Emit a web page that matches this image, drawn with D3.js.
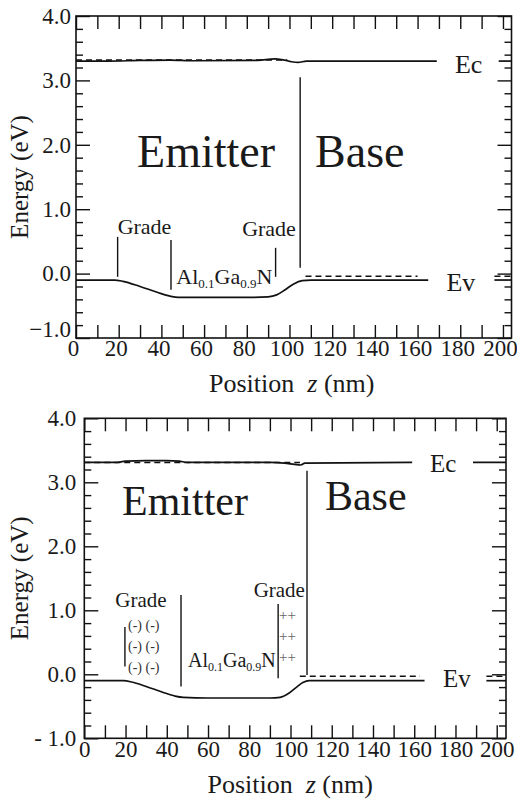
<!DOCTYPE html>
<html>
<head>
<meta charset="utf-8">
<script src="https://cdn.jsdelivr.net/npm/d3@7"></script>
<style>
  html, body { margin: 0; padding: 0; background: #fff; }
  svg { display: block; }
  svg text { font-family: "Liberation Serif", "Tinos", "Times New Roman", "DejaVu Serif", serif; fill: #1a1a1a; }
</style>
</head>
<body>
<svg id="chart" width="517" height="799"></svg>
<script>
// ---- Band-edge data: position z (nm) vs energy (eV) ----
// Upper panel (no interface charge)
const topEvSolid = [[0,-0.10],[18,-0.10],[22,-0.12],[30,-0.20],[38,-0.29],[44,-0.35],[48,-0.37],[60,-0.37],[80,-0.37],[90,-0.36],[94,-0.33],[98,-0.25],[102,-0.16],[106,-0.11],[110,-0.10],[165,-0.10]];
const topEvSolidEnd = [[196,-0.10],[204,-0.10]];
const topEvDash = [[107.5,-0.04],[160,-0.04]];
const topEvDashEnd = [[196,-0.04],[204,-0.04]];
const topEcSolid = [[0,3.30],[15,3.30],[30,3.31],[44,3.315],[55,3.305],[85,3.31],[93,3.335],[97,3.32],[101,3.29],[104,3.28],[108,3.30],[169,3.30]];
const topEcSolidEnd = [[198,3.30],[204,3.30]];
const topEcDash = [[0,3.315],[99,3.315]];
// region boundaries: [z, lower energy, upper energy]
const topMarkers = [[19.5,-0.05,0.57],[44.5,-0.25,0.52],[93.5,-0.05,0.40],[105,0.09,3.05]];

// Lower panel (with interface charge)
const botEvSolid = [[0,-0.10],[19,-0.10],[23,-0.12],[30,-0.19],[38,-0.28],[44,-0.34],[48,-0.36],[60,-0.37],[90,-0.37],[95,-0.36],[99,-0.30],[103,-0.20],[106,-0.13],[109,-0.10],[165,-0.10]];
const botEvSolidEnd = [[195,-0.10],[204.5,-0.10]];
const botEvDash = [[104.5,-0.03],[162.8,-0.03]];
const botEvDashEnd = [[195,-0.03],[204.5,-0.03]];
const botEcSolid = [[0,3.31],[15,3.31],[20,3.33],[30,3.34],[40,3.34],[46,3.33],[50,3.31],[90,3.31],[97,3.30],[102,3.28],[105,3.27],[107,3.30],[159,3.31]];
const botEcSolidEnd = [[188.5,3.31],[204.5,3.31]];
const botEcDash = [[0,3.31],[104.6,3.31]];
const botMarkers = [[19.7,0.12,0.74],[46.9,-0.19,1.24],[94,-0.06,1.10],[108,-0.01,3.18]];

// ---- Axis ticks ----
const zTicks = d3.range(0, 201, 10);
const zLabels = [0,20,40,60,80,100,120,140,160,180,200];
const eMajor = [-1,0,1,2,3,4];
const eMinor = d3.range(-0.8, 4, 0.2).filter(v => Math.abs(v - Math.round(v)) > 1e-6);

const FONT = "'Liberation Serif','Tinos','Times New Roman','DejaVu Serif',serif";
const svg = d3.select("#chart");

function drawPanel(p) {
  const x = d3.scaleLinear().domain(p.zDomain).range([p.left, p.right]);
  const y = d3.scaleLinear().domain([-1, 4]).range([p.bottom, p.top]);
  const g = svg.append("g");

  const line = d3.line().x(d => x(d[0])).y(d => y(d[1])).curve(d3.curveMonotoneX);

  // axes
  const fmtZ = d => zLabels.includes(d) ? String(d) : "";
  const ax = g.append("g").attr("transform", `translate(0,${p.bottom})`)
    .call(d3.axisBottom(x).tickValues(zTicks).tickSize(-13).tickPadding(2).tickFormat(fmtZ));
  ax.selectAll("text").attr("dx", p.xLabelDx);
  g.append("g").attr("transform", `translate(0,${p.top})`)
    .call(d3.axisTop(x).tickValues(zTicks).tickSize(-13).tickFormat(""));
  const ayMaj = g.append("g").attr("transform", `translate(${p.left},0)`)
    .call(d3.axisLeft(y).tickValues(eMajor).tickSize(-14).tickPadding(p.yPad).tickFormat(p.fmtE));
  ayMaj.selectAll("text").attr("dy", d => d === -1 ? p.minusDy : "0.32em");
  g.append("g").attr("transform", `translate(${p.left},0)`)
    .call(d3.axisLeft(y).tickValues(eMinor).tickSize(-7).tickFormat(""));
  g.append("g").attr("transform", `translate(${p.right},0)`)
    .call(d3.axisRight(y).tickValues(eMajor).tickSize(-14).tickFormat(""));
  g.append("g").attr("transform", `translate(${p.right},0)`)
    .call(d3.axisRight(y).tickValues(eMinor).tickSize(-7).tickFormat(""));
  g.selectAll(".domain").remove();
  g.selectAll(".tick line").attr("stroke", "#111").attr("stroke-width", 1.4);
  g.selectAll(".tick text").style("fill", "#1a1a1a")
    .style("font-family", FONT).style("font-size", "23px");

  // frame
  g.append("rect").attr("x", p.left).attr("y", p.top)
    .attr("width", p.right - p.left).attr("height", p.bottom - p.top)
    .attr("fill", "none").attr("stroke", "#111").attr("stroke-width", 1.6);

  // band edges
  const solid = [p.evSolid, p.evSolidEnd, p.ecSolid, p.ecSolidEnd];
  const dashed = [p.evDash, p.evDashEnd, p.ecDash];
  g.selectAll(".solid").data(solid).join("path").attr("class", "solid")
    .attr("d", line).attr("fill", "none").attr("stroke", "#111").attr("stroke-width", 1.7);
  g.selectAll(".dash").data(dashed).join("path").attr("class", "dash")
    .attr("d", line).attr("fill", "none").attr("stroke", "#111").attr("stroke-width", 1.5)
    .attr("stroke-dasharray", "6,4");

  // region boundaries
  g.selectAll(".marker").data(p.markers).join("line").attr("class", "marker")
    .attr("x1", d => x(d[0])).attr("x2", d => x(d[0]))
    .attr("y1", d => y(d[1])).attr("y2", d => y(d[2]))
    .attr("stroke", "#111").attr("stroke-width", 1.4);

  // labels placed in data coordinates
  p.labels.forEach(l => {
    const t = g.append("text").attr("x", x(l.z)).attr("y", y(l.e))
      .attr("text-anchor", l.anchor || "start")
      .style("font-family", FONT)
      .style("font-size", l.size + "px")
      .style("fill", l.color || "#1a1a1a");
    if (l.parts) {
      l.parts.forEach(pt => {
        t.append("tspan").text(pt.t).attr("dy", pt.dy || 0)
          .style("font-size", (pt.sub ? l.sub : l.size) + "px");
      });
    } else {
      t.text(l.text);
    }
  });

  // axis titles
  const xt = g.append("text").attr("x", (p.left + p.right) / 2 + p.xTitleDx).attr("y", p.xTitleY)
    .attr("text-anchor", "middle").style("font-family", FONT).style("font-size", "26px");
  xt.append("tspan").text("Position\u00a0 ");
  xt.append("tspan").text("z").style("font-style", "italic");
  xt.append("tspan").text(" (nm)");
  g.append("text")
    .attr("transform", `translate(${p.yTitleX},${(p.top + p.bottom) / 2}) rotate(-90)`)
    .attr("text-anchor", "middle").style("font-family", FONT).style("font-size", "25px")
    .text("Energy (eV)");
}

const alGaN = [
  {t: "Al"}, {t: "0.1", sub: true, dy: 4}, {t: "Ga", dy: -4},
  {t: "0.9", sub: true, dy: 4}, {t: "N", dy: -4}
];

drawPanel({
  zDomain: [0, 204], left: 76, right: 511.5, top: 16, bottom: 338,
  xLabelDx: -3, yPad: 5, minusDy: "-0.05em",
  fmtE: d => (d < 0 ? "\u2212" : "") + Math.abs(d).toFixed(1),
  xTitleY: 392, xTitleDx: -2, yTitleX: 28,
  evSolid: topEvSolid, evSolidEnd: topEvSolidEnd, evDash: topEvDash, evDashEnd: topEvDashEnd,
  ecSolid: topEcSolid, ecSolidEnd: topEcSolidEnd, ecDash: topEcDash,
  markers: topMarkers,
  labels: [
    {z: 28.6, e: 1.65, size: 46, text: "Emitter"},
    {z: 112, e: 1.65, size: 46, text: "Base"},
    {z: 19.5, e: 0.62, size: 22, text: "Grade"},
    {z: 103, e: 0.58, size: 22, text: "Grade", anchor: "end"},
    {z: 47, e: -0.16, size: 22, sub: 13, parts: alGaN},
    {z: 177.5, e: 3.12, size: 26, text: "Ec"},
    {z: 173.5, e: -0.27, size: 26, text: "Ev"}
  ]
});

drawPanel({
  zDomain: [0, 204.5], left: 84.3, right: 506, top: 418.3, bottom: 738.3,
  xLabelDx: 0, yPad: 8, minusDy: "0.32em",
  fmtE: d => (d < 0 ? "- " : "") + Math.abs(d).toFixed(1),
  xTitleY: 793, xTitleDx: -5, yTitleX: 28,
  evSolid: botEvSolid, evSolidEnd: botEvSolidEnd, evDash: botEvDash, evDashEnd: botEvDashEnd,
  ecSolid: botEcSolid, ecSolidEnd: botEcSolidEnd, ecDash: botEcDash,
  markers: botMarkers,
  labels: [
    {z: 18.3, e: 2.49, size: 42, text: "Emitter"},
    {z: 116.7, e: 2.57, size: 42, text: "Base"},
    {z: 15, e: 1.05, size: 21, text: "Grade"},
    {z: 107, e: 1.21, size: 21, text: "Grade", anchor: "end"},
    {z: 21.2, e: 0.69, size: 14, text: "(-) (-)", color: "#333"},
    {z: 21.2, e: 0.36, size: 14, text: "(-) (-)", color: "#333"},
    {z: 21.2, e: 0.04, size: 14, text: "(-) (-)", color: "#333"},
    {z: 94.4, e: 0.85, size: 15, text: "++", color: "#666"},
    {z: 94.4, e: 0.52, size: 15, text: "++", color: "#666"},
    {z: 94.4, e: 0.19, size: 15, text: "++", color: "#666"},
    {z: 50.3, e: 0.11, size: 20, sub: 12, parts: alGaN},
    {z: 167.6, e: 3.16, size: 25, text: "Ec"},
    {z: 174, e: -0.2, size: 25, text: "Ev"}
  ]
});
</script>
</body>
</html>
